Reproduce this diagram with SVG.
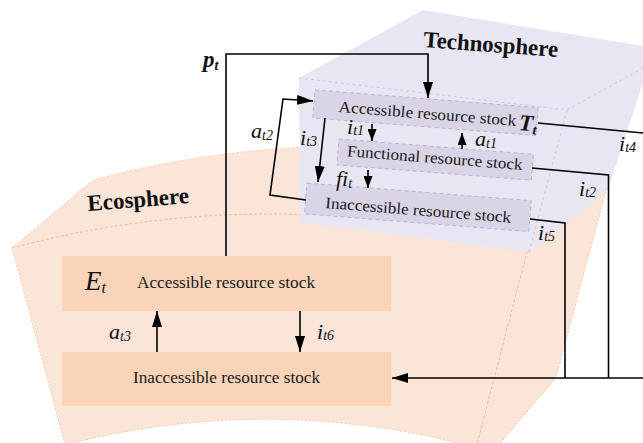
<svg xmlns="http://www.w3.org/2000/svg" width="643" height="443" viewBox="0 0 643 443">
<defs>
<marker id="arr" markerUnits="userSpaceOnUse" markerWidth="16" markerHeight="10" refX="16" refY="5" orient="auto"><path d="M0,0 L16,5 L0,10 Z" fill="#000"/></marker>
<marker id="arrS" markerUnits="userSpaceOnUse" markerWidth="12" markerHeight="9" refX="12" refY="4.5" orient="auto"><path d="M0,0 L12,4.5 L0,9 Z" fill="#000"/></marker>
<style>
.eco{fill:#fae5d8;stroke:#f3c29e;stroke-width:0.8;stroke-dasharray:2,2}
.ecoEdge{fill:none;stroke:#f0b484;stroke-width:0.9;stroke-dasharray:3,2}
.tech{fill:#e8e6f2;stroke:none}
.techEdge{fill:none;stroke:#c4c0d6;stroke-width:0.8;stroke-dasharray:3,3}
.ebox{fill:#f9d4b8}
.tbox{fill:#d9d5e7;stroke:#b3aecb;stroke-width:0.8;stroke-dasharray:4,3}
.lbl{font-family:"Liberation Serif","Times New Roman",serif;font-size:16px;fill:#1a1a1a}
.title{font-family:"Liberation Serif","Times New Roman",serif;font-size:23px;font-weight:bold;fill:#111}
.var{font-family:"Liberation Serif","Times New Roman",serif;font-style:italic;font-size:22px;fill:#111}
.sub{font-size:14px}
.ln{fill:none;stroke:#000;stroke-width:1.6}
</style>
</defs>

<g id="ecosphere">
<path class="eco" d="M12,248 L93,180 A996,996 0 0,1 609,180 L556,378 L498,446 L476,448 A792,792 0 0,0 65,445 Z"/>
<path class="ecoEdge" d="M12,248 A996,996 0 0,1 528,248 L476,448"/>
<text class="title" x="88" y="211" transform="rotate(-4.5 88 211)">Ecosphere</text>
</g>

<g id="technosphere">
<path class="tech" d="M299,78 L423,10 L643,46 L643,82 L608,190 L529,252 L300,222 Z"/>
<path class="techEdge" d="M299,78 L567,110 L643,68 M567,110 L529,252"/>
<text class="title" x="423" y="47" transform="rotate(4.2 423 47)" textLength="135" lengthAdjust="spacingAndGlyphs">Technosphere</text>
</g>

<g id="tech-accessible" transform="rotate(4.5 315 90)">
<rect class="tbox" x="315" y="90" width="224" height="28"/>
<text class="lbl" x="340" y="110" textLength="178" lengthAdjust="spacingAndGlyphs">Accessible resource stock</text>
<text class="var" x="521" y="114" style="font-weight:bold;font-size:23px">T<tspan style="font-size:14px" dy="3">t</tspan></text>
</g>

<g id="tech-functional" transform="rotate(4.5 339 139)">
<rect class="tbox" x="339" y="139" width="195" height="26"/>
<text class="lbl" x="348" y="155.5" textLength="176" lengthAdjust="spacingAndGlyphs">Functional resource stock</text>
</g>

<g id="tech-inaccessible" transform="rotate(4.5 307 183)">
<rect class="tbox" x="307" y="183" width="225" height="31"/>
<text class="lbl" x="327" y="206.5" textLength="186" lengthAdjust="spacingAndGlyphs">Inaccessible resource stock</text>
</g>

<g id="eco-accessible">
<rect class="ebox" x="62" y="256" width="329" height="55"/>
<text class="var" x="85" y="290" style="font-size:27px">E<tspan style="font-size:16px" dy="3">t</tspan></text>
<text class="lbl" x="137" y="288" textLength="178" lengthAdjust="spacingAndGlyphs">Accessible resource stock</text>
</g>

<g id="eco-inaccessible">
<rect class="ebox" x="62" y="352" width="329" height="54"/>
<text class="lbl" x="133" y="383" textLength="187" lengthAdjust="spacingAndGlyphs">Inaccessible resource stock</text>
</g>

<g id="connectors">
<path class="ln" d="M226,256 V54 H428 V98" stroke-width="2" marker-end="url(#arr)"/>
<path class="ln" d="M325,118 L318,182" marker-end="url(#arr)"/>
<path class="ln" d="M306,200 L270,195 L283,99 L313,101" marker-end="url(#arr)"/>
<path class="ln" d="M372,124 V141" marker-end="url(#arrS)"/>
<path class="ln" d="M462,149 V133" marker-end="url(#arrS)"/>
<path class="ln" d="M368,170 V188" marker-end="url(#arrS)"/>
<path class="ln" d="M538,123 L643,133"/>
<path class="ln" d="M532,168 L608.5,175 V378"/>
<path class="ln" d="M530,219 L565,223 V378"/>
<path class="ln" d="M643,378 H392" marker-end="url(#arr)"/>
<path class="ln" d="M157,352 V311" marker-end="url(#arr)"/>
<path class="ln" d="M300,311 V352" marker-end="url(#arr)"/>

<text class="var" x="203" y="67" style="font-weight:bold;font-size:23px">p<tspan style="font-size:14px" dy="3">t</tspan></text>
<text class="var" x="251" y="138">a<tspan class="sub" dy="2">t2</tspan></text>
<text class="var" x="300" y="145">i<tspan class="sub" dy="1">t3</tspan></text>
<text class="var" x="347" y="134">i<tspan class="sub" dy="1">t1</tspan></text>
<text class="var" x="475" y="146">a<tspan class="sub" dy="2">t1</tspan></text>
<text class="var" x="336" y="186">fi<tspan class="sub" dy="2">t</tspan></text>
<text class="var" x="619" y="151">i<tspan class="sub" dy="1">t4</tspan></text>
<text class="var" x="579" y="196">i<tspan class="sub" dy="1">t2</tspan></text>
<text class="var" x="538" y="240">i<tspan class="sub" dy="1">t5</tspan></text>
<text class="var" x="109" y="339">a<tspan class="sub" dy="2">t3</tspan></text>
<text class="var" x="317" y="339">i<tspan class="sub" dy="1">t6</tspan></text>
</g>
</svg>
